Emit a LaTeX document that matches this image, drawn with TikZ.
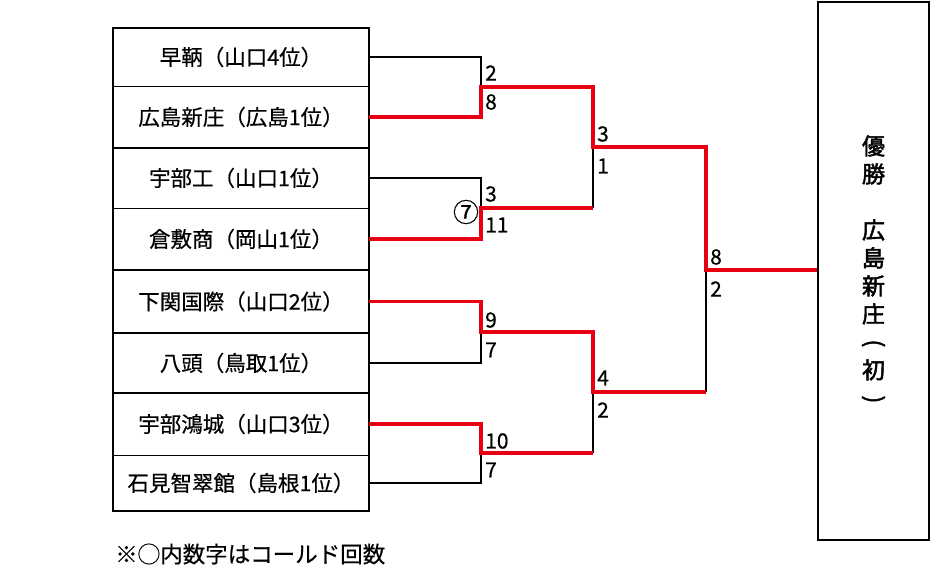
\documentclass[tikz,border=0pt]{standalone}
\usepackage{fontspec}
\setmainfont{Noto Sans CJK JP}[FakeBold=0.5]
\newfontfamily\boldjp[FakeBold=2]{Noto Sans CJK JP}
\definecolor{winred}{RGB}{230,0,18}
\newcommand{\vparen}[1]{\rotatebox[origin=c]{-90}{#1}}
\begin{document}
\begin{tikzpicture}[x=1pt,y=-1pt,
  team/.style={minimum width=256pt,minimum height=20pt,inner sep=0pt,font=\fontsize{21.5}{24}\selectfont},
  score/.style={anchor=west,inner sep=0pt,font=\fontsize{21}{23}\selectfont},
  loser/.style={line width=1.1pt,black},
  winner/.style={line width=3.8pt,winred},
  outer/.style={line width=2.2pt},
  thindiv/.style={line width=0.9pt},
  thickdiv/.style={line width=1.8pt}]
\useasboundingbox (0,0) rectangle (932,570);
% team box
\draw[outer] (113,28) rectangle (369,511);
\draw[thindiv] (113,86) -- (369,86);
\draw[thickdiv] (113,148) -- (369,148);
\draw[thindiv] (113,208) -- (369,208);
\draw[thickdiv] (113,270) -- (369,270);
\draw[thickdiv] (113,333) -- (369,333);
\draw[thickdiv] (113,393) -- (369,393);
\draw[thindiv] (113,455) -- (369,455);
\node[team] (t1) at (241,57) {早鞆（山口4位）};
\node[team] (t2) at (241,117) {広島新庄（広島1位）};
\node[team] (t3) at (241,178) {宇部工（山口1位）};
\node[team] (t4) at (241,239) {倉敷商（岡山1位）};
\node[team] (t5) at (241,301.5) {下関国際（山口2位）};
\node[team] (t6) at (241,363) {八頭（鳥取1位）};
\node[team] (t7) at (241,424) {宇部鴻城（山口3位）};
\node[team] (t8) at (241,483) {石見智翠館（島根1位）};
% champion box
\node[draw,outer,minimum width=111pt,minimum height=538pt,inner sep=0pt] (champ) at (873.5,271) {};
\node[align=center,inner sep=0pt,font=\boldjp\fontsize{23}{28}\selectfont] (ctext) at (champ.center)
  {優\\勝\\[28pt]広\\島\\新\\庄\\\vparen{(}\\初\\\vparen{)}};
% junctions
\coordinate (j1) at (481,87);
\coordinate (j2) at (481,208);
\coordinate (j3) at (481,332);
\coordinate (j4) at (481,453);
\coordinate (k1) at (593,147);
\coordinate (k2) at (593,392);
\coordinate (f) at (706,270);
% losers' lines
\draw[loser] (t1.east) -| (j1);
\draw[loser] (t3.east) -| (j2);
\draw[loser] (t6.east) -| (j3);
\draw[loser] (t8.east) -| (j4);
\draw[loser] (j2 -| k1) -- (k1);
\draw[loser] (j4 -| k2) -- (k2);
\draw[loser] (k2 -| f) -- (f);
% winners' lines
\draw[winner] (t2.east) -| (j1) -| (k1) -| (f) -- (champ.west |- f);
\draw[winner] (t4.east) -| (j2) -- (j2 -| k1);
\draw[winner] (t5.east) -| (j3) -| (k2) -- (k2 -| f);
\draw[winner] (t7.east) -| (j4) -- (j4 -| k2);
% scores (yshift is in canvas direction: positive = up)
\node[score] (s1a) at ([xshift=4pt,yshift=14pt]j1) {2};
\node[score] (s1b) at ([xshift=4pt,yshift=-15pt]j1) {8};
\node[score] (s2a) at ([xshift=4pt,yshift=14pt]j2) {3};
\node[score] (s2b) at ([xshift=4pt,yshift=-17pt]j2) {11};
\node[inner sep=0pt,font=\fontsize{26}{28}\selectfont] (c7) at (466,212) {⑦};
\node[score] (s3a) at ([xshift=4pt,yshift=12pt]j3) {9};
\node[score] (s3b) at ([xshift=4pt,yshift=-18pt]j3) {7};
\node[score] (s4a) at ([xshift=4pt,yshift=12pt]j4) {10};
\node[score] (s4b) at ([xshift=4pt,yshift=-17pt]j4) {7};
\node[score] (s5a) at ([xshift=4pt,yshift=13pt]k1) {3};
\node[score] (s5b) at ([xshift=4pt,yshift=-19pt]k1) {1};
\node[score] (s6a) at ([xshift=4pt,yshift=14pt]k2) {4};
\node[score] (s6b) at ([xshift=4pt,yshift=-18pt]k2) {2};
\node[score] (s7a) at ([xshift=4pt,yshift=13pt]f) {8};
\node[score] (s7b) at ([xshift=4pt,yshift=-19pt]f) {2};
% footnote
\node[anchor=west,inner sep=0pt,font=\fontsize{22.5}{25}\selectfont] (note) at (115,554) {※◯内数字はコールド回数};
\end{tikzpicture}
\end{document}
